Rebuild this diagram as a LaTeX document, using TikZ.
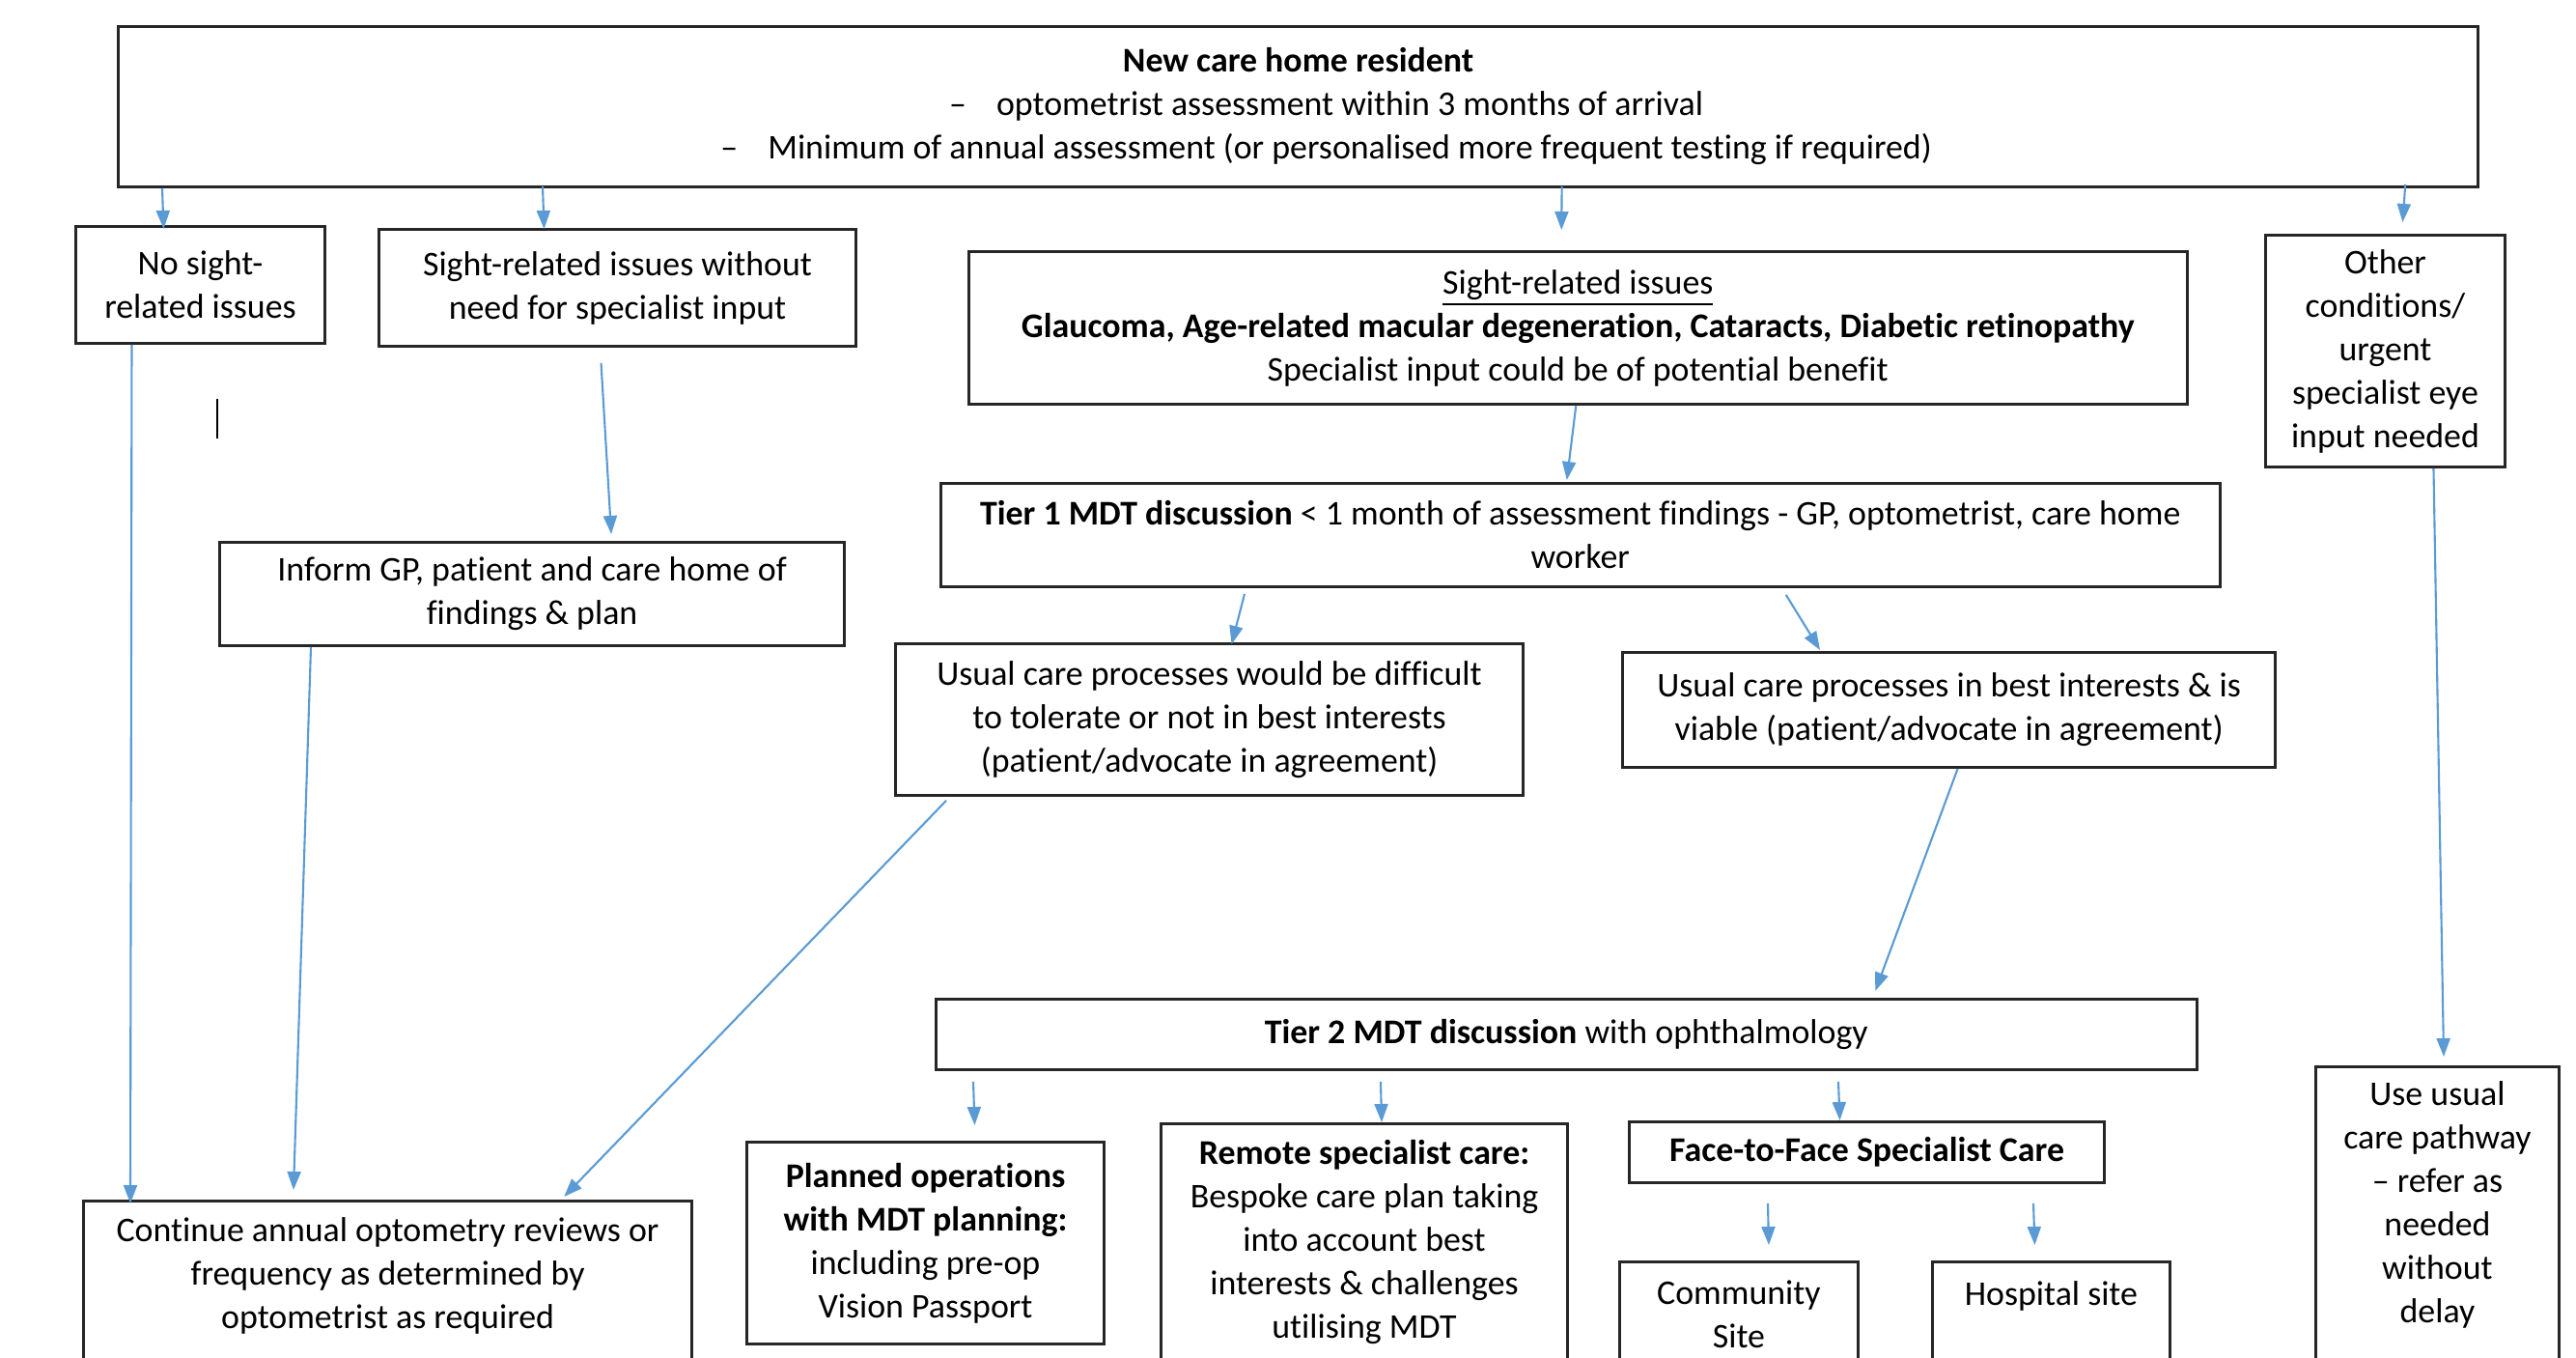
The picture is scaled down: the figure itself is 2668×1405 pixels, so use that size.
\documentclass[tikz,border=0pt]{standalone}
\usepackage{fontspec}
\setmainfont{Carlito}[Ligatures=NoCommon]
\usetikzlibrary{arrows.meta,calc}
\definecolor{arrowblue}{HTML}{5B9BD5}
\begin{document}
\begin{tikzpicture}[x=0.01cm,y=-0.01cm,
    box/.style={draw=black!85,line width=0.8pt,align=center,inner sep=0pt,
      anchor=north west,font=\fontsize{10.2}{12.8}\selectfont},
    cutbox/.style={box,text height=#1,text depth=1.5cm},
    arr/.style={draw=arrowblue,line width=0.6pt,-{Triangle[length=1.9mm,width=1.4mm]}}]
  % Marco
  \clip (0,0) rectangle (2668,1405);
  \fill[white] (0,0) rectangle (2668,1405);

  % Residente
  \node[box,minimum width=24.43cm,minimum height=1.66cm] (resident) at (121,26)
    {\textbf{New care home resident}\\
     \hspace*{0.58cm}–\hspace{0.31cm}optometrist assessment within 3 months of arrival\\
     \hspace*{0.58cm}–\hspace{0.31cm}Minimum of annual assessment (or personalised more frequent testing if required)};

  % Primera fila
  \node[box,minimum width=2.58cm,minimum height=1.21cm] (nosight) at (77,233)
    {No sight-\\related issues};
  \node[box,minimum width=4.94cm,minimum height=1.21cm] (noneed) at (391,236)
    {Sight-related issues without\\need for specialist input};
  \node[box,minimum width=12.61cm,minimum height=1.58cm] (sight) at (1002,259)
    {\underline{Sight-related issues}\\
     \textbf{Glaucoma, Age-related macular degeneration, Cataracts, Diabetic retinopathy}\\
     Specialist input could be of potential benefit};
  \node[box,minimum width=2.48cm,minimum height=2.40cm] (other) at (2345,242)
    {Other\\conditions/\\urgent\\specialist eye\\input needed};

  % Segunda fila
  \node[box,minimum width=6.47cm,minimum height=1.07cm] (inform) at (226,560)
    {Inform GP, patient and care home of\\findings \& plan};
  \node[box,minimum width=13.24cm,minimum height=1.07cm] (tier1) at (973,499)
    {\textbf{Tier 1 MDT discussion} < 1 month of assessment findings - GP, optometrist, care home\\worker};
  \node[box,minimum width=6.50cm,minimum height=1.57cm] (difficult) at (926,665)
    {Usual care processes would be difficult\\to tolerate or not in best interests\\(patient/advocate in agreement)};
  \node[box,minimum width=6.76cm,minimum height=1.19cm] (viable) at (1679,674)
    {Usual care processes in best interests \& is\\viable (patient/advocate in agreement)};

  % Nivel 2
  \node[box,minimum width=13.05cm,minimum height=0.73cm] (tier2) at (968,1033)
    {\textbf{Tier 2 MDT discussion} with ophthalmology};
  \node[box,minimum width=3.70cm,minimum height=2.09cm] (planned) at (772,1181)
    {\textbf{Planned operations}\\\textbf{with MDT planning:}\\including pre-op\\Vision Passport};
  \node[box,minimum width=4.21cm,minimum height=2.45cm] (remote) at (1201,1162)
    {\textbf{Remote specialist care:}\\Bespoke care plan taking\\into account best\\interests \& challenges\\utilising MDT};
  \node[box,minimum width=4.92cm,minimum height=0.63cm] (face) at (1686,1160)
    {\textbf{Face-to-Face Specialist Care}};

  % Cajas cortadas abajo
  \node[cutbox=1.32cm,minimum width=6.30cm] (continue) at (85,1242)
    {Continue annual optometry reviews or\\frequency as determined by\\optometrist as required};
  \node[cutbox=0.89cm,minimum width=2.47cm] (community) at (1676,1305)
    {Community\\Site};
  \node[cutbox=0.45cm,minimum width=2.46cm] (hospital) at (2000,1305)
    {Hospital site};
  \node[cutbox=2.65cm,minimum width=2.52cm] (usual) at (2397,1103)
    {Use usual\\care pathway\\– refer as\\needed\\without\\delay};

  % Marca suelta
  \draw[black,line width=0.4pt] (225,413) -- (225,454);

  % Flechas
  \draw[arr] ($(resident.south west)+(47,0)$) -- ($(nosight.north)+(-38,4)$);
  \draw[arr] ($(resident.south west)+(441,-2)$) -- ($(noneed.north)+(-76,1)$);
  \draw[arr] ($(resident.south)+(273,-2)$) -- ($(sight.north)+(-17,-21)$);
  \draw[arr] ($(resident.south east)+(-77,-4)$) -- ($(other.north)+(18,-12)$);
  \draw[arr] ($(nosight.south)+(-71,0)$) -- ($(continue.north west)+(50,4)$);
  \draw[arr] ($(noneed.south)+(-17,16)$) -- ($(inform.north)+(82,-7)$);
  \draw[arr] ($(inform.south west)+(96,0)$) -- ($(continue.north west)+(219,-10)$);
  \draw[arr] ($(difficult.south west)+(54,4)$) -- ($(continue.north east)+(-134,-3)$);
  \draw[arr] ($(sight.south)+(-2,0)$) -- ($(tier1.north)+(-14,-2)$);
  \draw[arr] ($(tier1.south west)+(316,6)$) -- ($(difficult.north)+(23,2)$);
  \draw[arr] ($(tier1.south)+(213,7)$) -- ($(viable.north west)+(206,-1)$);
  \draw[arr] ($(viable.south)+(9,0)$) -- ($(tier2.north)+(320,-7)$);
  \draw[arr] ($(other.south)+(50,0)$) -- ($(usual.north west)+(134,-9)$);
  \draw[arr] ($(tier2.south west)+(40,11)$) -- ($(planned.north)+(51,-16)$);
  \draw[arr] ($(tier2.south west)+(462,11)$) -- ($(remote.north)+(18,0)$);
  \draw[arr] ($(tier2.south west)+(936,11)$) -- ($(face.north)+(-28,0)$);
  \draw[arr] ($(face.south west)+(145,20)$) -- ($(community.north)+(31,-16)$);
  \draw[arr] ($(face.south west)+(420,20)$) -- ($(hospital.north)+(-17,-16)$);
\end{tikzpicture}
\end{document}
